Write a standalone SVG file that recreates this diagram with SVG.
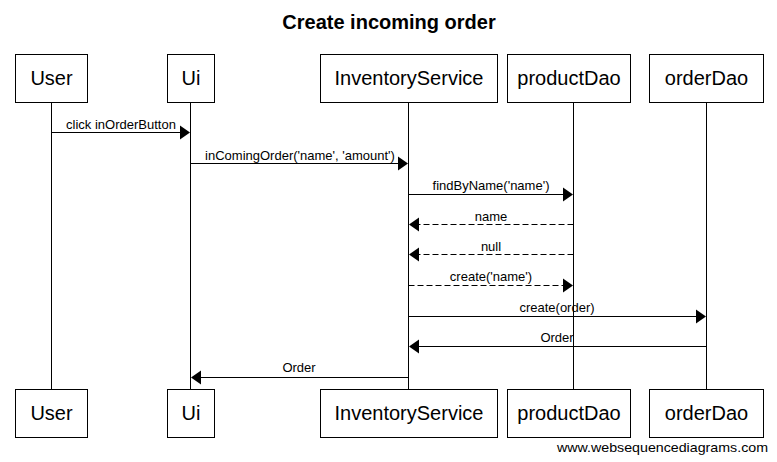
<svg xmlns="http://www.w3.org/2000/svg" width="777" height="462" viewBox="0 0 777 462">
<defs>
<style>
.box{fill:#fff;stroke:#000;stroke-width:1}
.pl{font-family:"Liberation Sans",Arial,sans-serif;font-size:20px;text-anchor:middle;fill:#000}
.ml{font-family:"Liberation Sans",Arial,sans-serif;font-size:13px;text-anchor:middle;fill:#000}
.life{stroke:#000;stroke-width:1}
.msg{stroke:#000;stroke-width:1;fill:none}
.dash{stroke-dasharray:6,3}
.ah{fill:#000}
</style>
</defs>
<rect width="777" height="462" fill="#fff"/>
<text x="389" y="29" font-family="Liberation Sans,Arial,sans-serif" font-size="20" font-weight="bold" text-anchor="middle">Create incoming order</text>
<g id="lifelines">
<line class="life" x1="51.5" y1="102" x2="51.5" y2="390"/>
<line class="life" x1="190.5" y1="102" x2="190.5" y2="390"/>
<line class="life" x1="408.5" y1="102" x2="408.5" y2="390"/>
<line class="life" x1="573.5" y1="102" x2="573.5" y2="390"/>
<line class="life" x1="706.5" y1="102" x2="706.5" y2="390"/>
</g>
<g id="User">
<rect class="box" x="15.5" y="54.5" width="72" height="48"/>
<text class="pl" x="51.5" y="85">User</text>
<rect class="box" x="15.5" y="389.5" width="72" height="48"/>
<text class="pl" x="51.5" y="420">User</text>
</g>
<g id="Ui">
<rect class="box" x="167.5" y="54.5" width="47" height="48"/>
<text class="pl" x="191" y="85">Ui</text>
<rect class="box" x="167.5" y="389.5" width="47" height="48"/>
<text class="pl" x="191" y="420">Ui</text>
</g>
<g id="InventoryService">
<rect class="box" x="320.5" y="54.5" width="177" height="48"/>
<text class="pl" x="409" y="85">InventoryService</text>
<rect class="box" x="320.5" y="389.5" width="177" height="48"/>
<text class="pl" x="409" y="420">InventoryService</text>
</g>
<g id="productDao">
<rect class="box" x="507.5" y="54.5" width="123" height="48"/>
<text class="pl" x="569" y="85">productDao</text>
<rect class="box" x="507.5" y="389.5" width="123" height="48"/>
<text class="pl" x="569" y="420">productDao</text>
</g>
<g id="orderDao">
<rect class="box" x="649.5" y="54.5" width="114" height="48"/>
<text class="pl" x="706.5" y="85">orderDao</text>
<rect class="box" x="649.5" y="389.5" width="114" height="48"/>
<text class="pl" x="706.5" y="420">orderDao</text>
</g>
<g id="connectors">
<line class="msg" x1="51.5" y1="132.5" x2="181" y2="132.5"/>
<polygon class="ah" points="190,132.5 180,125.5 180,139.5"/>
<text class="ml" x="121" y="129">click inOrderButton</text>

<line class="msg" x1="190.5" y1="163.5" x2="399" y2="163.5"/>
<polygon class="ah" points="408,163.5 398,156.5 398,170.5"/>
<text class="ml" x="300" y="160">inComingOrder('name', 'amount')</text>

<line class="msg" x1="408.5" y1="194.5" x2="564" y2="194.5"/>
<polygon class="ah" points="573,194.5 563,187.5 563,201.5"/>
<text class="ml" x="491" y="190">findByName('name')</text>

<line class="msg dash" x1="573.5" y1="224.5" x2="418" y2="224.5"/>
<polygon class="ah" points="409,224.5 419,217.5 419,231.5"/>
<text class="ml" x="491" y="221">name</text>

<line class="msg dash" x1="573.5" y1="254.5" x2="418" y2="254.5"/>
<polygon class="ah" points="409,254.5 419,247.5 419,261.5"/>
<text class="ml" x="491" y="251">null</text>

<line class="msg dash" x1="408.5" y1="285.5" x2="564" y2="285.5"/>
<polygon class="ah" points="573,285.5 563,278.5 563,292.5"/>
<text class="ml" x="491" y="281">create('name')</text>

<line class="msg" x1="408.5" y1="316.5" x2="697" y2="316.5"/>
<polygon class="ah" points="706,316.5 696,309.5 696,323.5"/>
<text class="ml" x="557" y="312">create(order)</text>

<line class="msg" x1="706.5" y1="346.5" x2="418" y2="346.5"/>
<polygon class="ah" points="409,346.5 419,339.5 419,353.5"/>
<text class="ml" x="557" y="342">Order</text>

<line class="msg" x1="408.5" y1="377.5" x2="200" y2="377.5"/>
<polygon class="ah" points="191,377.5 201,370.5 201,384.5"/>
<text class="ml" x="299" y="372">Order</text>
</g>
<text x="768" y="452" font-family="Liberation Sans,Arial,sans-serif" font-size="13" text-anchor="end" textLength="211" lengthAdjust="spacingAndGlyphs">www.websequencediagrams.com</text>
</svg>
